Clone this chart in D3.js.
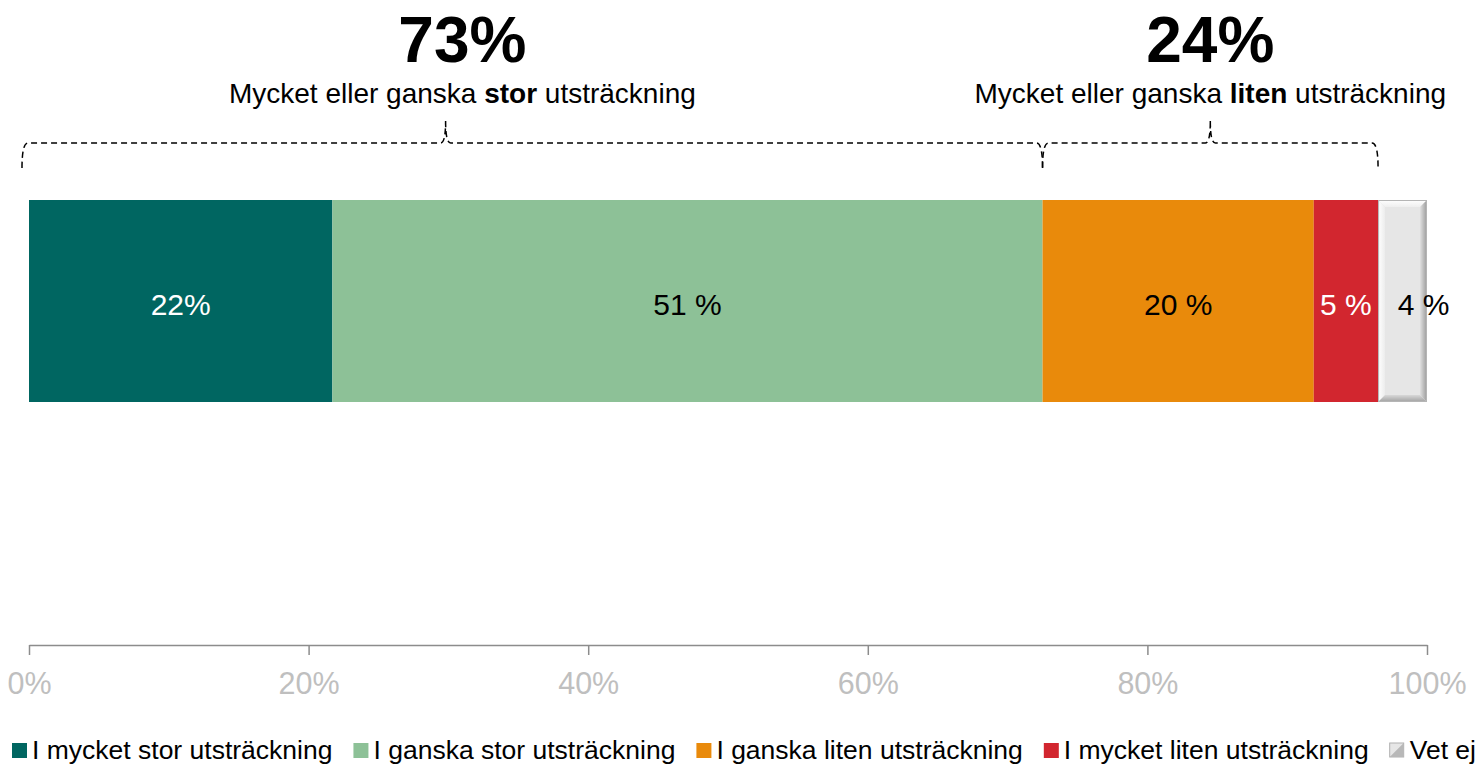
<!DOCTYPE html>
<html>
<head>
<meta charset="utf-8">
<script src="https://cdn.jsdelivr.net/npm/d3@7"></script>
<style>
  body { margin: 0; background: #fff; }
  svg { display: block; font-family: "Liberation Sans", Arial, sans-serif; }
</style>
</head>
<body>
<div id="chart"></div>
<script>
// data
const categories = ["I mycket stor utsträckning", "I ganska stor utsträckning", "I ganska liten utsträckning", "I mycket liten utsträckning", "Vet ej"];
const values = [21.7, 50.8, 19.4, 4.6, 3.5];
const valueLabels = ["22%", "51 %", "20 %", "5 %", "4 %"];
const colors = ["#006661", "#8dc197", "#e98a0b", "#d2262f", "#e6e6e6"];
const labelColors = ["#fff", "#000", "#000", "#fff", "#000"];
const tickValues = [0, 20, 40, 60, 80, 100];

// summary groups: big number, caption (plain/bold/plain), span in %, tip position in %
const groupBig = ["73%", "24%"];
const groupText = [["Mycket eller ganska ", "stor", " utsträckning"], ["Mycket eller ganska ", "liten", " utsträckning"]];
const groupFrom = [0, 72.5];
const groupTo = [72.5, 96.5];
const groupTip = [29.8, 84.5];
const groupTextAt = [31, 84.5];

const width = 1478, height = 765;
const margin = {left: 29, right: 51};

const svg = d3.select("#chart").append("svg")
  .attr("width", width).attr("height", height);

const x = d3.scaleLinear().domain([0, 100]).range([margin.left, width - margin.right]);
const barTop = 200, barH = 202;

let cum = 0;
const segs = values.map((v, i) => {
  const s = {i: i, x0: cum, x1: cum + v};
  cum += v;
  return s;
});

// bars
svg.selectAll(".seg")
  .data(segs.slice(0, 4))
  .enter().append("rect")
  .attr("class", "seg")
  .attr("x", d => x(d.x0))
  .attr("y", barTop)
  .attr("width", d => x(d.x1) - x(d.x0))
  .attr("height", barH)
  .attr("fill", d => colors[d.i]);

// bevelled grey segment for "Vet ej"
const defs = svg.append("defs");
function grad(id, x1, y1, x2, y2, c1, c2) {
  const g = defs.append("linearGradient").attr("id", id)
    .attr("x1", x1).attr("y1", y1).attr("x2", x2).attr("y2", y2);
  g.append("stop").attr("offset", "0%").attr("stop-color", c1);
  g.append("stop").attr("offset", "100%").attr("stop-color", c2);
}
grad("bvL", "0", "0", "1", "0", "#ffffff", "#ececec");
grad("bvR", "0", "0", "1", "0", "#e0e0e0", "#9a9a9a");
grad("bvT", "0", "0", "0", "1", "#ffffff", "#eeeeee");
grad("bvB", "0", "0", "0", "1", "#d8d8d8", "#a0a0a0");

const last = segs[4];
const gx0 = x(last.x0), gx1 = x(last.x1), gy0 = barTop, gy1 = barTop + barH, b = 7;
const bevel = svg.append("g");
bevel.append("rect").attr("x", gx0).attr("y", gy0).attr("width", gx1 - gx0).attr("height", barH)
  .attr("fill", colors[4]);
bevel.append("polygon").attr("fill", "url(#bvT)")
  .attr("points", [[gx0, gy0], [gx1, gy0], [gx1 - b, gy0 + b], [gx0 + b, gy0 + b]].join(" "));
bevel.append("polygon").attr("fill", "url(#bvL)")
  .attr("points", [[gx0, gy0], [gx0 + b, gy0 + b], [gx0 + b, gy1 - b], [gx0, gy1]].join(" "));
bevel.append("polygon").attr("fill", "url(#bvR)")
  .attr("points", [[gx1, gy0], [gx1, gy1], [gx1 - b, gy1 - b], [gx1 - b, gy0 + b]].join(" "));
bevel.append("polygon").attr("fill", "url(#bvB)")
  .attr("points", [[gx0, gy1], [gx0 + b, gy1 - b], [gx1 - b, gy1 - b], [gx1, gy1]].join(" "));
bevel.append("rect").attr("x", gx0 + 0.5).attr("y", gy0 + 0.5).attr("width", gx1 - gx0 - 1).attr("height", barH - 1)
  .attr("fill", "none").attr("stroke", "#b5b5b5");

// value labels
svg.selectAll(".vlab")
  .data(segs)
  .enter().append("text")
  .attr("class", "vlab")
  .attr("x", d => (x(d.x0) + x(d.x1)) / 2 + (d.i === 4 ? 21 : 0))
  .attr("y", barTop + barH / 2 + 3)
  .attr("dy", "0.35em")
  .attr("text-anchor", "middle")
  .attr("font-size", "30px")
  .attr("fill", d => labelColors[d.i])
  .text(d => valueLabels[d.i]);

// axis
const axisY = 645;
const axis = svg.append("g")
  .attr("transform", `translate(0,${axisY})`)
  .call(d3.axisBottom(x).tickValues(tickValues).tickSize(10).tickSizeOuter(0).tickPadding(17)
    .tickFormat(d => d + "%"));
axis.select(".domain").attr("stroke", "#8c8c8c").attr("stroke-width", 1.5);
axis.selectAll(".tick line").attr("stroke", "#8c8c8c").attr("stroke-width", 1.5);
axis.selectAll(".tick text").attr("fill", "#bfbfbf").attr("font-size", "30.5px")
  .attr("font-family", "Liberation Sans, Arial, sans-serif");

// braces
const braceY = 143;
groupFrom.forEach((f, k) => {
  const xa = k === 0 ? x(f) - 7 : x(f), xb = x(groupTo[k]), xm = x(groupTip[k]);
  const p = d3.path();
  p.moveTo(xa, braceY + 25);
  p.quadraticCurveTo(xa, braceY, xa + 6, braceY);
  p.lineTo(xm - 5, braceY);
  p.quadraticCurveTo(xm, braceY, xm, braceY - 22);
  p.moveTo(xm, braceY - 22);
  p.quadraticCurveTo(xm, braceY, xm + 5, braceY);
  p.lineTo(xb - 6, braceY);
  p.quadraticCurveTo(xb, braceY, xb, braceY + 25);
  svg.append("path").attr("d", p.toString())
    .attr("fill", "none").attr("stroke", "#000").attr("stroke-width", 1.5)
    .attr("stroke-dasharray", "6,4");
});

// big numbers and captions
groupBig.forEach((t, k) => {
  svg.append("text").attr("x", x(groupTextAt[k])).attr("y", 62)
    .attr("text-anchor", "middle").attr("font-size", "64px").attr("font-weight", "bold")
    .text(t);
  const cap = svg.append("text").attr("x", x(groupTextAt[k])).attr("y", 103)
    .attr("text-anchor", "middle").attr("font-size", "28px");
  groupText[k].forEach((s, j) => {
    cap.append("tspan").attr("font-weight", j === 1 ? "bold" : "normal").text(s);
  });
});

// legend
const legend = svg.append("g").attr("transform", "translate(12,750)");
let lx = 0;
categories.forEach((c, i) => {
  const g = legend.append("g").attr("transform", `translate(${lx},0)`);
  if (i === 4) {
    g.append("rect").attr("x", 0).attr("y", -7).attr("width", 14).attr("height", 14).attr("fill", "#e6e6e6")
      .attr("stroke", "#b0b0b0");
    g.append("polygon").attr("points", "14,-7 14,7 0,7").attr("fill", "#b8b8b8");
  } else {
    g.append("rect").attr("x", 0).attr("y", -7).attr("width", 15).attr("height", 15).attr("fill", colors[i]);
  }
  const t = g.append("text").attr("x", 20).attr("y", 0).attr("dy", "0.35em")
    .attr("font-size", "26.5px").attr("fill", "#000").text(c);
  lx += 20 + t.node().getComputedTextLength() + 21;
});
</script>
</body>
</html>
